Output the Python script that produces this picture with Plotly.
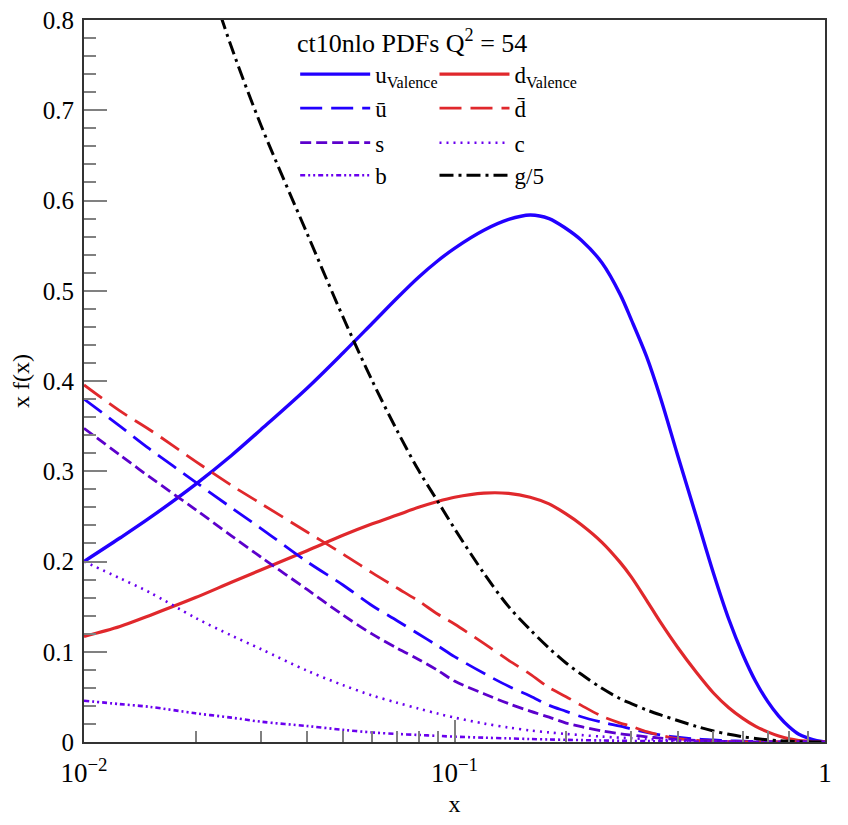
import plotly.graph_objects as go

# ---------------- data ----------------
x_grid = [0.01, 0.0125, 0.015, 0.02, 0.025, 0.03, 0.04, 0.05, 0.06, 0.07, 0.08, 0.09,
          0.1, 0.12, 0.14, 0.16, 0.18, 0.2, 0.22, 0.25, 0.28, 0.3, 0.33, 0.36, 0.4,
          0.45, 0.5, 0.55, 0.6, 0.65, 0.7, 0.75, 0.8, 0.85, 0.9, 0.95, 1.0]

u_valence = [0.200, 0.226, 0.248, 0.2855, 0.3175, 0.346, 0.392, 0.431, 0.464, 0.492, 0.515, 0.533,
             0.547, 0.567, 0.579, 0.584, 0.580, 0.569, 0.556, 0.531, 0.496, 0.468, 0.427, 0.381, 0.318,
             0.249, 0.187, 0.136, 0.097, 0.067, 0.045, 0.0287, 0.0168, 0.0085, 0.0044, 0.0015, 0.0]

d_valence = [0.117, 0.128, 0.140, 0.160, 0.177, 0.1906, 0.212, 0.229, 0.2417, 0.2515, 0.2600, 0.2665,
             0.2712, 0.2758, 0.2755, 0.2712, 0.2638, 0.2528, 0.2408, 0.2213, 0.199, 0.183, 0.157, 0.1325, 0.105,
             0.077, 0.0543, 0.038, 0.0262, 0.0173, 0.0112, 0.0066, 0.0035, 0.0017, 0.0008, 0.0002, 0.0]

u_bar = [0.380, 0.350, 0.325, 0.288, 0.2596, 0.2368, 0.1998, 0.174, 0.151, 0.1344, 0.1197, 0.1067,
         0.0946, 0.0761, 0.0617, 0.051, 0.0406, 0.034, 0.028, 0.022, 0.0175, 0.0145, 0.0107, 0.0078, 0.0053,
         0.0033, 0.0022, 0.0014, 0.0009, 0.0005, 0.0003, 0.0002, 0.0001, 0.0, 0.0, 0.0, 0.0]

d_bar = [0.3956, 0.3668, 0.3463, 0.311, 0.2844, 0.2643, 0.2327, 0.2083, 0.1874, 0.1706, 0.1562, 0.1418,
         0.1307, 0.1093, 0.0905, 0.0753, 0.0602, 0.0502, 0.0406, 0.0285, 0.021, 0.0175, 0.0114, 0.0075, 0.0037,
         0.0018, 0.0009, 0.0005, 0.0003, 0.0001, 0.0, 0.0, 0.0, 0.0, 0.0, 0.0, 0.0]

s_quark = [0.3476, 0.318, 0.294, 0.2575, 0.2285, 0.205, 0.169, 0.1407, 0.1195, 0.104, 0.0915, 0.0795,
           0.0675, 0.0535, 0.0425, 0.0342, 0.0275, 0.021, 0.017, 0.0123, 0.0092, 0.0077, 0.0058, 0.0043, 0.0029,
           0.0017, 0.0009, 0.0005, 0.0002, 0.0001, 0.0, 0.0, 0.0, 0.0, 0.0, 0.0, 0.0]

c_quark = [0.200, 0.1815, 0.166, 0.1375, 0.118, 0.103, 0.079, 0.063, 0.0515, 0.0435, 0.037, 0.0315,
           0.027, 0.0205, 0.016, 0.0128, 0.0106, 0.0089, 0.0076, 0.006, 0.0048, 0.0042, 0.0033, 0.0026, 0.0018,
           0.0011, 0.0007, 0.0004, 0.0002, 0.0001, 0.0, 0.0, 0.0, 0.0, 0.0, 0.0, 0.0]

b_quark = [0.0458, 0.042, 0.039, 0.0318, 0.027, 0.0225, 0.0177, 0.0135, 0.0106, 0.0089, 0.0078, 0.0068,
           0.0059, 0.0048, 0.004, 0.0033, 0.0028, 0.0024, 0.0021, 0.0017, 0.0014, 0.0012, 0.001, 0.0008, 0.0006,
           0.0004, 0.0003, 0.0002, 0.0001, 0.0, 0.0, 0.0, 0.0, 0.0, 0.0, 0.0, 0.0]

gluon_over_5 = [None, None, None, 0.89, 0.770, 0.684, 0.5635, 0.471, 0.400, 0.345, 0.301, 0.267,
                0.2365, 0.187, 0.150, 0.1245, 0.104, 0.0875, 0.075, 0.0595, 0.048, 0.0425, 0.0355, 0.030, 0.0238,
                0.0172, 0.0122, 0.0085, 0.0058, 0.0039, 0.0025, 0.0015, 0.0008, 0.0004, 0.0002, 0.00005, 0.0]

x_tick_vals = [0.01, 0.1, 1]
x_tick_text = ["10<sup>\u22122</sup>", "10<sup>\u22121</sup>", "1"]
x_minor_vals = [0.02, 0.03, 0.04, 0.05, 0.06, 0.07, 0.08, 0.09,
                0.2, 0.3, 0.4, 0.5, 0.6, 0.7, 0.8, 0.9]

header_text = "ct10nlo PDFs Q<sup>2</sup> = 54"

BLUE = "#2200ff"
RED = "#e0282c"
PURPLE = "#5c00cc"
VIOLET = "#6a00ee"
FONT = "Liberation Serif, DejaVu Serif, serif"

series = [
    # name, values, color, dash, width, legend id, legend x, legend y
    ("u<sub>Valence</sub>", u_valence, BLUE, "solid", 3.4, "legend", 0.285, 0.925),
    ("d<sub>Valence</sub>", d_valence, RED, "solid", 3.2, "legend2", 0.473, 0.925),
    ("\u016b", u_bar, BLUE, "22px,9px", 2.8, "legend3", 0.285, 0.878),
    ("d\u0304", d_bar, RED, "22px,9px", 2.8, "legend4", 0.473, 0.878),
    ("s", s_quark, PURPLE, "11px,5px", 2.8, "legend5", 0.285, 0.830),
    ("c", c_quark, VIOLET, "2px,5px", 2.6, "legend6", 0.473, 0.830),
    ("b", b_quark, VIOLET, "5px,3px,2px,3px,2px,3px", 2.6, "legend7", 0.285, 0.785),
    ("g/5", gluon_over_5, "#000000", "14px,5px,3px,5px", 3.0, "legend8", 0.473, 0.785),
]

fig = go.Figure()
legend_layouts = {}
for name, vals, color, dash, width, leg, lx, ly in series:
    fig.add_trace(go.Scatter(
        x=x_grid, y=vals, mode="lines", name=name,
        line=dict(color=color, dash=dash, width=width, shape="spline", smoothing=0.9),
        legend=leg,
    ))
    legend_layouts[leg] = dict(
        x=lx, y=ly, xanchor="left", yanchor="middle",
        bgcolor="rgba(0,0,0,0)", borderwidth=0,
        font=dict(family=FONT, size=23, color="#000"),
        itemwidth=70, tracegroupgap=0,
    )

fig.update_layout(
    width=848, height=825,
    margin=dict(l=84, r=23, t=20, b=83),
    paper_bgcolor="white", plot_bgcolor="white",
    font=dict(family=FONT, size=24, color="#000"),
    showlegend=True,
    **legend_layouts,
)

fig.add_annotation(
    text=header_text, xref="paper", yref="paper", x=0.285, y=0.970,
    xanchor="left", yanchor="middle", showarrow=False,
    font=dict(family=FONT, size=26, color="#000"),
)

fig.update_xaxes(
    type="log", range=[-2, 0], automargin=False,
    tickmode="array", tickvals=x_tick_vals, ticktext=x_tick_text,
    ticks="inside", ticklen=22, tickwidth=1.5, tickcolor="#808080",
    minor=dict(tickmode="array", tickvals=x_minor_vals, ticks="inside",
               ticklen=11, tickwidth=1.5, tickcolor="#808080"),
    showline=True, linecolor="#333333", linewidth=2, mirror=True,
    showgrid=False, zeroline=False,
    tickfont=dict(family=FONT, size=27, color="#000"),
    ticklabelstandoff=6,
    title=dict(text="x", font=dict(family=FONT, size=24, color="#000"), standoff=8),
)
fig.update_yaxes(
    range=[0, 0.8], tickmode="linear", tick0=0, dtick=0.1, automargin=False,
    tickformat="~g",
    ticks="inside", ticklen=23, tickwidth=1.5, tickcolor="#808080",
    minor=dict(dtick=0.02, ticks="inside", ticklen=12, tickwidth=1.5, tickcolor="#808080"),
    showline=True, linecolor="#333333", linewidth=2, mirror=True,
    showgrid=False, zeroline=False,
    tickfont=dict(family=FONT, size=25, color="#000"),
    ticklabelstandoff=3,
    title=dict(text="x f(x)", font=dict(family=FONT, size=24, color="#000"), standoff=6),
)

fig.write_html("out.html", config={"displayModeBar": False},
               post_script="document.body.style.margin='0';")
